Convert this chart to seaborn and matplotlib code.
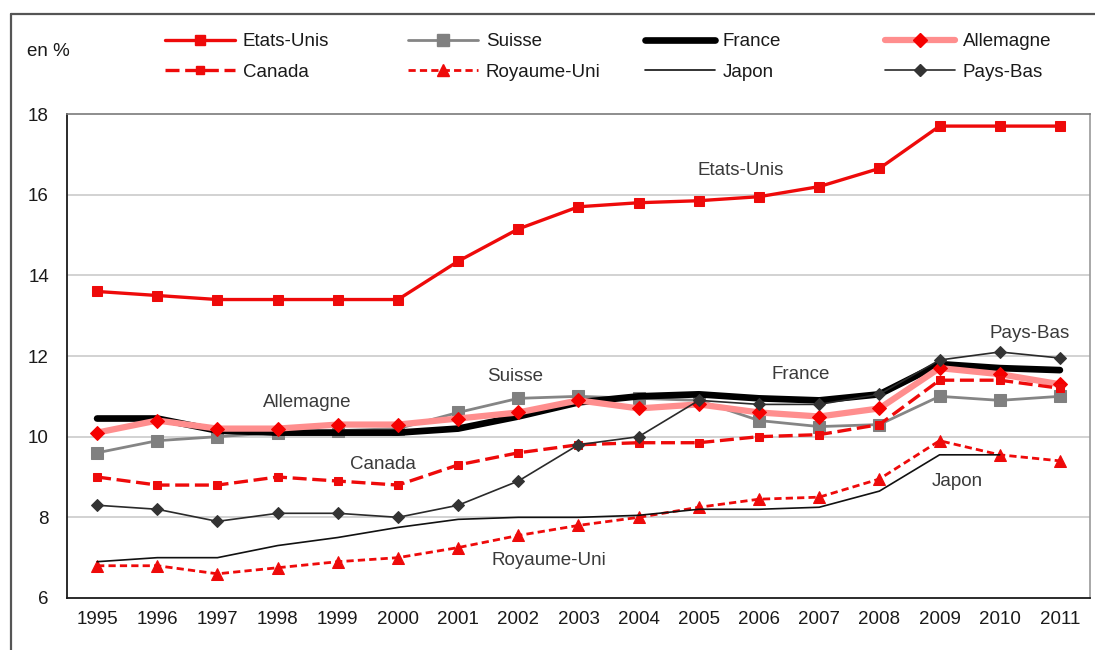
import numpy as np
import pandas as pd
import matplotlib
matplotlib.use("Agg")
import matplotlib.pyplot as plt
from matplotlib.lines import Line2D
import seaborn as sns

years = list(range(1995, 2012))

etats_unis = [13.6, 13.5, 13.4, 13.4, 13.4, 13.4, 14.35, 15.15, 15.7, 15.8, 15.85, 15.95, 16.2, 16.65, 17.7, 17.7, 17.7]
suisse = [9.6, 9.9, 10.0, 10.1, 10.15, 10.2, 10.6, 10.95, 11.0, 10.95, 10.9, 10.4, 10.25, 10.3, 11.0, 10.9, 11.0]
france = [10.45, 10.45, 10.15, 10.1, 10.1, 10.1, 10.2, 10.5, 10.85, 11.0, 11.05, 10.95, 10.9, 11.05, 11.8, 11.7, 11.65]
allemagne = [10.1, 10.4, 10.2, 10.2, 10.3, 10.3, 10.45, 10.6, 10.9, 10.7, 10.8, 10.6, 10.5, 10.7, 11.7, 11.55, 11.3]
canada = [9.0, 8.8, 8.8, 9.0, 8.9, 8.8, 9.3, 9.6, 9.8, 9.85, 9.85, 10.0, 10.05, 10.3, 11.4, 11.4, 11.2]
royaume_uni = [6.8, 6.8, 6.6, 6.75, 6.9, 7.0, 7.25, 7.55, 7.8, 8.0, 8.25, 8.45, 8.5, 8.95, 9.9, 9.55, 9.4]
japon = [6.9, 7.0, 7.0, 7.3, 7.5, 7.75, 7.95, 8.0, 8.0, 8.05, 8.2, 8.2, 8.25, 8.65, 9.55, 9.55, np.nan]
pays_bas = [8.3, 8.2, 7.9, 8.1, 8.1, 8.0, 8.3, 8.9, 9.8, 10.0, 10.9, 10.8, 10.8, 11.05, 11.9, 12.1, 11.95]

series = {
    "Etats-Unis": etats_unis,
    "Suisse": suisse,
    "France": france,
    "Allemagne": allemagne,
    "Canada": canada,
    "Royaume-Uni": royaume_uni,
    "Japon": japon,
    "Pays-Bas": pays_bas,
}

styles = {
    "Etats-Unis": dict(color="#EE0A0A", lw=2.4, ls="-", marker="s", ms=6.5, mfc="#EE0A0A", mec="#EE0A0A"),
    "Suisse": dict(color="#858585", lw=2.0, ls="-", marker="s", ms=8, mfc="#808080", mec="#808080"),
    "France": dict(color="#000000", lw=4.8, ls="-", marker=None, ms=0, mfc="k", mec="k"),
    "Allemagne": dict(color="#FF8E8E", lw=4.5, ls="-", marker="D", ms=7, mfc="#F50000", mec="#F50000"),
    "Canada": dict(color="#EE0A0A", lw=2.4, ls=(0, (4.2, 1.7)), marker="s", ms=6, mfc="#EE0A0A", mec="#EE0A0A"),
    "Royaume-Uni": dict(color="#EE0A0A", lw=2.0, ls=(0, (2.6, 1.5)), marker="^", ms=8, mfc="#EE0A0A", mec="#EE0A0A"),
    "Japon": dict(color="#111111", lw=1.2, ls="-", marker=None, ms=0, mfc="k", mec="k"),
    "Pays-Bas": dict(color="#2A2A2A", lw=1.2, ls="-", marker="D", ms=6.5, mfc="#333333", mec="#333333"),
}

annotations = {
    "Etats-Unis": (2005.7, 16.6),
    "Suisse": (2001.95, 11.5),
    "France": (2006.7, 11.53),
    "Allemagne": (1998.5, 10.84),
    "Canada": (1999.75, 9.3),
    "Pays-Bas": (2010.5, 12.57),
    "Japon": (2009.3, 8.9),
    "Royaume-Uni": (2002.5, 6.92),
}

FS = 13.5

sns.set_theme(style="white")
plt.rcParams["font.family"] = ["Liberation Sans", "DejaVu Sans"]

fig = plt.figure(figsize=(10.95, 6.5), dpi=100)
ax = fig.add_axes([67 / 1095, 1 - 598 / 650, (1090 - 67) / 1095, (598 - 114) / 650])

df = pd.DataFrame(series, index=years)
df.index.name = "annee"

handles = {}
for name in series:
    st = styles[name]
    sns.lineplot(x=df.index, y=df[name], ax=ax, color=st["color"], linewidth=st["lw"],
                 linestyle=st["ls"], marker=st["marker"], markersize=st["ms"],
                 markerfacecolor=st["mfc"], markeredgecolor=st["mec"], label=name,
                 legend=False)
    handles[name] = Line2D([], [], color=st["color"], lw=st["lw"], ls=st["ls"],
                           marker=st["marker"] if st["marker"] else "None",
                           markersize=st["ms"], markerfacecolor=st["mfc"],
                           markeredgecolor=st["mec"])

ax.set_xlim(1994.5, 2011.5)
ax.set_ylim(6, 18)
ax.set_xticks(years)
ax.set_xticklabels([str(y) for y in years])
ax.set_xticks([y + 0.5 for y in years[:-1]], minor=True)
ax.set_yticks([6, 8, 10, 12, 14, 16, 18])
ax.set_xlabel("")
ax.set_ylabel("")

ax.tick_params(axis="x", which="major", length=0, pad=9, labelsize=FS, labelcolor="#1a1a1a")
ax.tick_params(axis="x", which="minor", direction="in", length=6, width=1.2, color="#222222")
ax.tick_params(axis="y", which="major", direction="in", length=3, width=1.0, color="#555555",
               pad=13, labelsize=FS, labelcolor="#1a1a1a")

for yv in [8, 10, 12, 14, 16]:
    ax.axhline(yv, color="#CFCFCF", lw=1.3, zorder=0)

ax.spines["left"].set_color("#1a1a1a")
ax.spines["left"].set_linewidth(1.3)
ax.spines["bottom"].set_color("#1a1a1a")
ax.spines["bottom"].set_linewidth(1.3)
ax.spines["top"].set_color("#7a7a7a")
ax.spines["top"].set_linewidth(1.2)
ax.spines["right"].set_color("#9a9a9a")
ax.spines["right"].set_linewidth(1.2)

for name, (xv, yv) in annotations.items():
    ax.text(xv, yv, name, ha="center", va="center", fontsize=FS, color="#3a3a3a")

# Legend: four columns of two entries each
columns = [["Etats-Unis", "Canada"], ["Suisse", "Royaume-Uni"], ["France", "Japon"], ["Allemagne", "Pays-Bas"]]
col_x = [165, 408, 645, 885]
for names, cx in zip(columns, col_x):
    fig.legend([handles[n] for n in names], names, loc="upper left",
               bbox_to_anchor=(cx / 1095, 1 - 33 / 650), frameon=False,
               borderpad=0, borderaxespad=0, handlelength=3.75, handletextpad=0.4,
               labelspacing=0.72, fontsize=FS, labelcolor="#1a1a1a")

fig.text(48 / 1095, 1 - 52 / 650, "en %", ha="center", va="center", fontsize=FS, color="#1a1a1a")

# Outer frame lines (top and left)
fig.add_artist(Line2D([11 / 1095, 1], [1 - 14 / 650, 1 - 14 / 650], color="#555555", lw=1.6,
                      transform=fig.transFigure))
fig.add_artist(Line2D([11 / 1095, 11 / 1095], [0, 1 - 14 / 650], color="#555555", lw=1.6,
                      transform=fig.transFigure))

fig.savefig("out.png", dpi=100)
